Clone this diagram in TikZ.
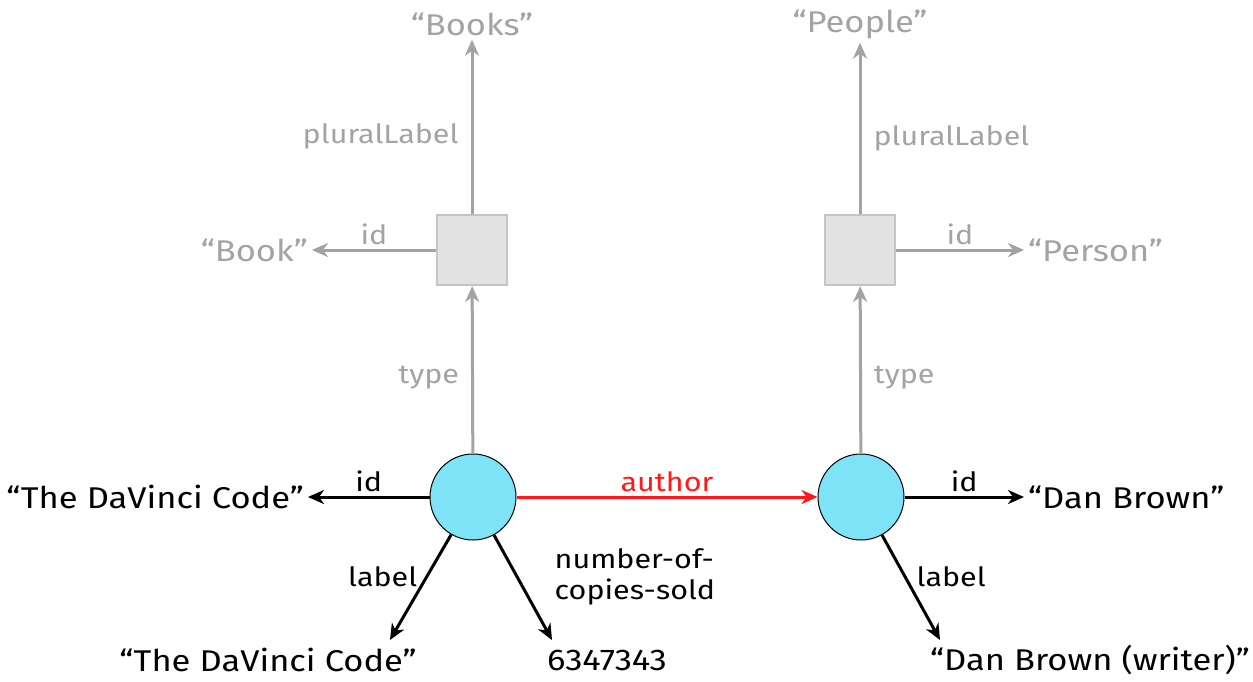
\documentclass[tikz,border=0pt]{standalone}
\usepackage{fontspec}
\setmainfont{Fira Sans}[FakeStretch=1.15]
\usetikzlibrary{arrows.meta}
\definecolor{lgray}{HTML}{A3A3A3}
\definecolor{boxfill}{HTML}{E2E2E2}
\definecolor{boxline}{HTML}{C4C4C4}
\definecolor{nodecyan}{HTML}{7FE3F7}
\definecolor{rel}{HTML}{FF1A1A}
\tikzset{
  txt/.style={font=\fontsize{30}{33}\selectfont, inner sep=4pt},
  gtxt/.style={txt, text=lgray},
  lbl/.style={font=\fontsize{26.5}{31}\selectfont, inner sep=2pt},
  glbl/.style={lbl, text=lgray},
  entity/.style={circle, draw=black, line width=1pt, fill=nodecyan, minimum size=86pt, inner sep=0pt},
  typebox/.style={rectangle, draw=boxline, line width=2pt, fill=boxfill, minimum size=70pt, inner sep=0pt},
  barrow/.style={draw=black, line width=3pt, -{Stealth[length=16pt,width=14pt,inset=5pt]}},
  garrow/.style={draw=lgray, line width=3pt, -{Stealth[length=16pt,width=14pt,inset=5pt]}},
  rarrow/.style={draw=rel, line width=3pt, -{Stealth[length=16pt,width=14pt,inset=5pt]}},
}
\begin{document}
\begin{tikzpicture}[x=1pt,y=-1pt]
\useasboundingbox (0,0) rectangle (1253,682);
% nodes
\node[entity] (c1) at (473,497) {};
\node[entity] (c2) at (861,497) {};
\node[typebox] (b1) at (472,250) {};
\node[typebox] (b2) at (860,250) {};
\node[gtxt] (books) at (472,24) {“Books”};
\node[gtxt] (people) at (860,24) {“People”};
\node[gtxt, anchor=east] (book) at (312,250) {“Book”};
\node[gtxt, anchor=west] (person) at (1024,250) {“Person”};
\node[txt, anchor=east] (dvc1) at (308,497) {“The DaVinci Code”};
\node[txt] (dvc2) at (268,660) {“The DaVinci Code”};
\node[txt] (num) at (607,660) {6347343};
\node[txt, anchor=west] (db) at (1024,497) {“Dan Brown”};
\node[txt] (dbw) at (1090,660) {“Dan Brown (writer)”};
\coordinate (t1) at (390,640);
\coordinate (t2) at (552,640);
\coordinate (t3) at (940,640);
% gray schema connectors
\draw[garrow] (c1) -- node[glbl, left=10pt, yshift=-8pt] {type} (b1);
\draw[garrow] (c2) -- node[glbl, right=10pt, yshift=-8pt] {type} (b2);
\draw[garrow] (b1) -- node[glbl, left=10pt, yshift=-10pt] {pluralLabel} (books);
\draw[garrow] (b2) -- node[glbl, right=10pt, yshift=-10pt] {pluralLabel} (people);
\draw[garrow] (b1) -- node[glbl, above=2pt] {id} (book);
\draw[garrow] (b2) -- node[glbl, above=2pt] {id} (person);
% black data connectors
\draw[barrow] (c1) -- node[lbl, above=2pt] {id} (dvc1);
\draw[barrow] (c2) -- node[lbl, above=2pt] {id} (db);
\draw[rarrow] (c1) -- node[lbl, above=2pt, text=rel] {author} (c2);
\draw[barrow] (c1) -- node[lbl, anchor=east, pos=0.4, xshift=-6pt] {label} (t1);
\draw[barrow] (c1) -- node[lbl, anchor=west, pos=0.4, xshift=34pt, align=left] {number-of-\\copies-sold} (t2);
\draw[barrow] (c2) -- node[lbl, anchor=west, pos=0.4, xshift=8pt] {label} (t3);
\end{tikzpicture}
\end{document}
